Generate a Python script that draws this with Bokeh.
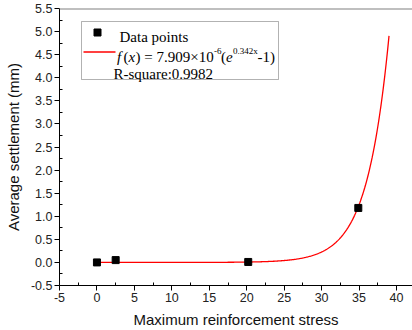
import numpy as np
from bokeh.plotting import figure
from bokeh.models import (Range1d, Span, Label, BoxAnnotation, FixedTicker,
                          PrintfTickFormatter)
from bokeh.embed import file_html
from bokeh.resources import INLINE

# ---------------- data ----------------
stress = [0.0, 2.5, 20.2, 34.9]          # Maximum reinforcement stress
settlement = [0.0, 0.05, 0.01, 1.18]     # Average settlement (mm)

fit_a = 7.909e-6      # f(x) = a * (exp(b x) - 1)
fit_b = 0.342
fit_x_start = 0.0
fit_x_end = 39.0

x_ticks = [-5, 0, 5, 10, 15, 20, 25, 30, 35, 40]
x_minor = [-2.5, 2.5, 7.5, 12.5, 17.5, 22.5, 27.5, 32.5, 37.5]
y_ticks = [-0.5, 0.0, 0.5, 1.0, 1.5, 2.0, 2.5, 3.0, 3.5, 4.0, 4.5, 5.0, 5.5]
y_minor = [-0.25, 0.25, 0.75, 1.25, 1.75, 2.25, 2.75, 3.25, 3.75, 4.25, 4.75, 5.25]

legend_data = "Data points"
legend_rsq = "R-square:0.9982"

# ---------------- layout (pixels) ----------------
W, H = 412, 330
FL, FR, FT, FB = 59, 412, 8, 285
X0, X40 = -5.0, 40.0
X40_PX = 396.0
ppx = (X40_PX - FL) / (X40 - X0)
x_end = X0 + (FR - FL) / ppx
y_start, y_end = -0.5, 5.5
ppy = (FB - FT) / (y_end - y_start)


def px(v):
    return X0 + (v - FL) / ppx


def py(v):
    return y_end - (v - FT) / ppy


p = figure(width=W, height=H, x_range=Range1d(X0, x_end),
           y_range=Range1d(y_start, y_end), output_backend="svg",
           toolbar_location=None, min_border_left=FL, min_border_right=0,
           min_border_top=FT, min_border_bottom=H - FB)
p.outline_line_color = None
p.grid.visible = False
p.background_fill_color = "white"
p.border_fill_color = "white"

# axes
for ax in (p.xaxis[0], p.yaxis[0]):
    ax.axis_line_color = "#000000"
    ax.axis_line_width = 1
    ax.major_tick_line_color = "#000000"
    ax.minor_tick_line_color = "#000000"
    ax.major_tick_in = 0
    ax.major_tick_out = 5
    ax.minor_tick_in = 3
    ax.minor_tick_out = 0
    ax.major_label_text_font = "Liberation Sans"
    ax.major_label_text_font_size = "12.5px"
    ax.major_label_text_color = "#222222"
    ax.major_label_standoff = 2
    ax.axis_label_text_font = "Liberation Sans"
    ax.axis_label_text_font_size = "15px"
    ax.axis_label_text_font_style = "normal"
    ax.axis_label_text_color = "#111111"
    ax.axis_label_standoff = 6

p.xaxis[0].ticker = FixedTicker(ticks=x_ticks, minor_ticks=x_minor)
p.yaxis[0].ticker = FixedTicker(ticks=y_ticks, minor_ticks=y_minor)
p.xaxis[0].formatter = PrintfTickFormatter(format="%d")
p.yaxis[0].formatter = PrintfTickFormatter(format="%.1f")
p.xaxis[0].axis_label = "Maximum reinforcement stress"
p.yaxis[0].axis_label = "Average settlement (mm)"

# top frame line
p.add_layout(Span(location=y_end, dimension="width", line_color="#808080",
                  line_width=2))

# fitted curve
fx = np.linspace(fit_x_start, fit_x_end, 400)
fy = fit_a * (np.exp(fit_b * fx) - 1.0)
p.line(fx, fy, line_color="#ff0000", line_width=1.3)

# data points
p.scatter(stress, settlement, marker="square", size=7, fill_color="#000000",
          line_color="#000000")

# ---------------- legend (drawn manually) ----------------
p.add_layout(BoxAnnotation(left=px(81), right=px(278), top=py(21),
                           bottom=py(79), fill_color="white", fill_alpha=1.0,
                           line_color="#000000", line_width=1))
p.scatter([px(97)], [py(32)], marker="square", size=7, fill_color="#000000",
          line_color="#000000", level="overlay")
p.line([px(83), px(115)], [py(51.5), py(51.5)], line_color="#ff0000",
       line_width=1.3, level="overlay")

SERIF = "Liberation Serif"


def lab(xp, yp, text, size="15px", style="normal"):
    p.add_layout(Label(x=px(xp), y=py(yp), text=text, text_font=SERIF,
                       text_font_size=size, text_font_style=style,
                       text_baseline="alphabetic", text_align="left",
                       text_color="#000000"))


lab(119, 36.5, legend_data)
lab(113, 73.5, legend_rsq)
# formula f(x) = 7.909x10^-6 (e^{0.342x} - 1)
BL, SUP = 56.5, 50.0
lab(116.5, BL, "f", style="italic")
lab(123, BL, "(")
lab(128, BL, "x", style="italic")
lab(135, BL, ") = 7.909\u00d710")
lab(213.5, SUP, "-6", size="9px")
lab(220.5, BL, "(")
lab(225.5, BL, "e", style="italic")
lab(232.5, SUP, "0.342x", size="9px")
lab(257, BL, "-1)")

open("out.html", "w").write(file_html(p, INLINE))
